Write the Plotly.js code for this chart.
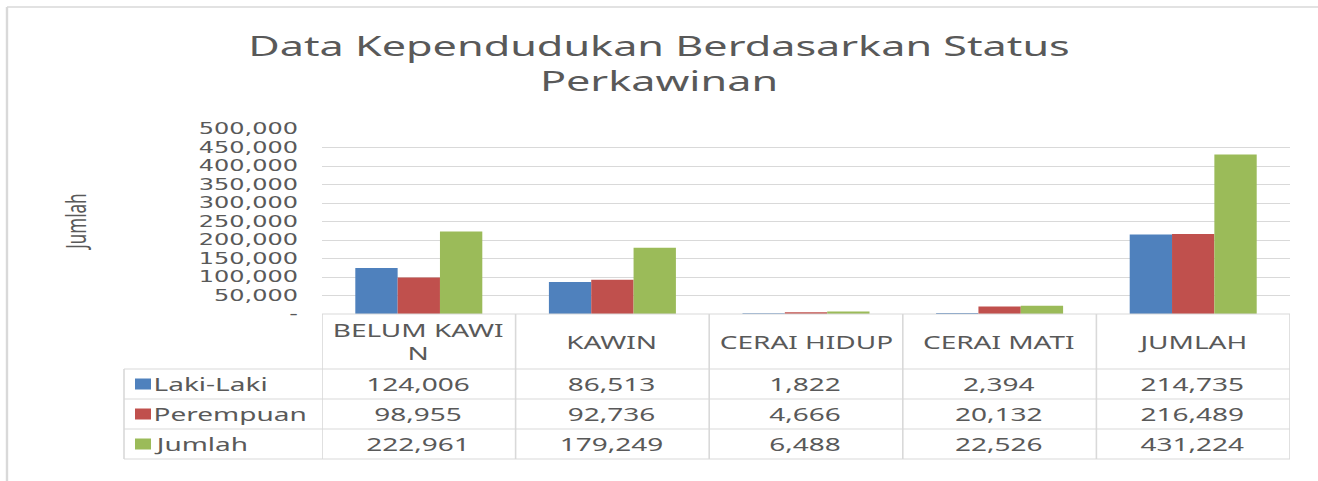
<!DOCTYPE html>
<html>
<head>
<meta charset="utf-8">
<script src="https://cdn.plot.ly/plotly-3.0.1.min.js"></script>
<style>
  html, body { margin: 0; padding: 0; background: #ffffff; overflow: hidden; }
  #wrap { width: 1318px; height: 481px; overflow: hidden; }
  #chart { width: 824px; height: 481px; transform: scaleX(1.59951); transform-origin: 0 0; }
</style>
</head>
<body>
<div id="wrap"><div id="chart"></div></div>
<script>
// ---- data ----
const categories = ["BELUM KAWIN", "KAWIN", "CERAI HIDUP", "CERAI MATI", "JUMLAH"];
const headerLabels = ["BELUM KAWI<br>N", "KAWIN", "CERAI HIDUP", "CERAI MATI", "JUMLAH"];
const seriesNames = ["Laki-Laki", "Perempuan", "Jumlah"];
const lakiLaki = [124006, 86513, 1822, 2394, 214735];
const perempuan = [98955, 92736, 4666, 20132, 216489];
const jumlah = [222961, 179249, 6488, 22526, 431224];
const yTickVals = [0, 50000, 100000, 150000, 200000, 250000, 300000, 350000, 400000, 450000, 500000];
const yTickText = ["-", "50,000", "100,000", "150,000", "200,000", "250,000", "300,000", "350,000", "400,000", "450,000", "500,000"];
const titleText = "Data Kependudukan Berdasarkan Status<br>Perkawinan";
const yTitleText = "Jumlah";

// ---- styles / geometry (final-pixel based, converted to paper fractions) ----
const FW = 1318, FH = 481;
const px = x => x / FW;
const py = y => 1 - y / FH;
const colors = ["#4F81BD", "#C0504D", "#9BBB59"];
const textColor = "#595959";
const lineColor = "#D9D9D9";
const font = "Noto Sans, DejaVu Sans, sans-serif";

const seriesValues = [lakiLaki, perempuan, jumlah];

const traces = seriesValues.map((vals, i) => ({
  type: "bar",
  name: seriesNames[i],
  x: categories,
  y: vals,
  marker: { color: colors[i] },
  hoverinfo: "none",
  showlegend: false
}));

const tableLeft = 124, plotLeft = 322, plotRight = 1290;
const headerTop = 314, headerBottom = 369, rowH = 30;
const rowCenters = [0, 1, 2].map(r => headerBottom + rowH * r + rowH / 2);
const tableBottom = headerBottom + rowH * 3;

const shapes = [];
// outer frame
shapes.push({ type: "line", xref: "paper", yref: "paper", x0: px(7), x1: px(7), y0: py(7), y1: py(481), line: { color: lineColor, width: 1.5 } });
shapes.push({ type: "line", xref: "paper", yref: "paper", x0: px(7), x1: px(1318), y0: py(7), y1: py(7), line: { color: lineColor, width: 1.5 } });
// table horizontal lines
[headerTop].forEach(y => shapes.push({ type: "line", xref: "paper", yref: "paper", x0: px(plotLeft), x1: px(plotRight), y0: py(y), y1: py(y), line: { color: lineColor, width: 1 } }));
[headerBottom, headerBottom + rowH, headerBottom + 2 * rowH, tableBottom].forEach(y => shapes.push({ type: "line", xref: "paper", yref: "paper", x0: px(tableLeft), x1: px(plotRight), y0: py(y), y1: py(y), line: { color: lineColor, width: 1 } }));
// table vertical lines at category boundaries
for (let i = 0; i <= categories.length; i++) {
  shapes.push({ type: "line", xref: "x", yref: "paper", x0: i - 0.5, x1: i - 0.5, y0: py(headerTop), y1: py(tableBottom), line: { color: lineColor, width: 1 } });
}
shapes.push({ type: "line", xref: "paper", yref: "paper", x0: px(tableLeft), x1: px(tableLeft), y0: py(headerBottom), y1: py(tableBottom), line: { color: lineColor, width: 1 } });
// legend swatches
rowCenters.forEach((yc, r) => shapes.push({ type: "rect", xref: "paper", yref: "paper", x0: px(135), x1: px(151), y0: py(yc - 5.5), y1: py(yc + 5.5), fillcolor: colors[r], line: { width: 0 } }));

const annotations = [];
const tfont = { family: font, size: 17.5, color: textColor };
// header cells
headerLabels.forEach((lab, i) => annotations.push({ xref: "x", yref: "paper", x: categories[i], y: py((headerTop + headerBottom) / 2), text: lab, showarrow: false, xanchor: "center", yanchor: "middle", font: tfont }));
// value cells
seriesValues.forEach((vals, r) => vals.forEach((v, i) => annotations.push({ xref: "x", yref: "paper", x: categories[i], y: py(rowCenters[r]), text: v.toLocaleString("en-US"), showarrow: false, xanchor: "center", yanchor: "middle", font: tfont })));
// legend labels
seriesNames.forEach((n, r) => annotations.push({ xref: "paper", yref: "paper", x: px(150), y: py(rowCenters[r]), text: n, showarrow: false, xanchor: "left", yanchor: "middle", font: tfont }));
// y axis title
annotations.push({ xref: "paper", yref: "paper", x: px(75), y: py(222), text: yTitleText, textangle: -90, showarrow: false, xanchor: "center", yanchor: "middle", font: { family: font, size: 17, color: textColor } });

const layout = {
  width: 824,
  height: 481,
  autosize: false,
  margin: { l: 0, r: 0, t: 0, b: 0, pad: 0 },
  paper_bgcolor: "#FFFFFF",
  plot_bgcolor: "#FFFFFF",
  title: {
    text: titleText,
    x: 0.5, xanchor: "center", xref: "paper",
    y: py(56), yanchor: "middle", yref: "container",
    font: { family: font, size: 27, color: textColor }
  },
  barmode: "group",
  bargap: 0.344,
  bargroupgap: 0,
  xaxis: {
    type: "category",
    domain: [px(plotLeft), px(plotRight)],
    range: [-0.5, categories.length - 0.5],
    showticklabels: false,
    showgrid: false,
    zeroline: false,
    showline: false,
    ticks: "",
    fixedrange: true
  },
  yaxis: {
    domain: [py(headerTop), py(129)],
    range: [0, 500000],
    tickmode: "array",
    tickvals: yTickVals,
    ticktext: yTickText,
    showgrid: true,
    gridcolor: lineColor,
    gridwidth: 1,
    zeroline: false,
    showline: false,
    ticks: "",
    ticklabelstandoff: 14,
    tickfont: { family: "DejaVu Sans, sans-serif", size: 15, color: textColor },
    fixedrange: true
  },
  shapes: shapes,
  annotations: annotations,
  showlegend: false
};

Plotly.newPlot("chart", traces, layout, { displayModeBar: false, staticPlot: true });
</script>
</body>
</html>
